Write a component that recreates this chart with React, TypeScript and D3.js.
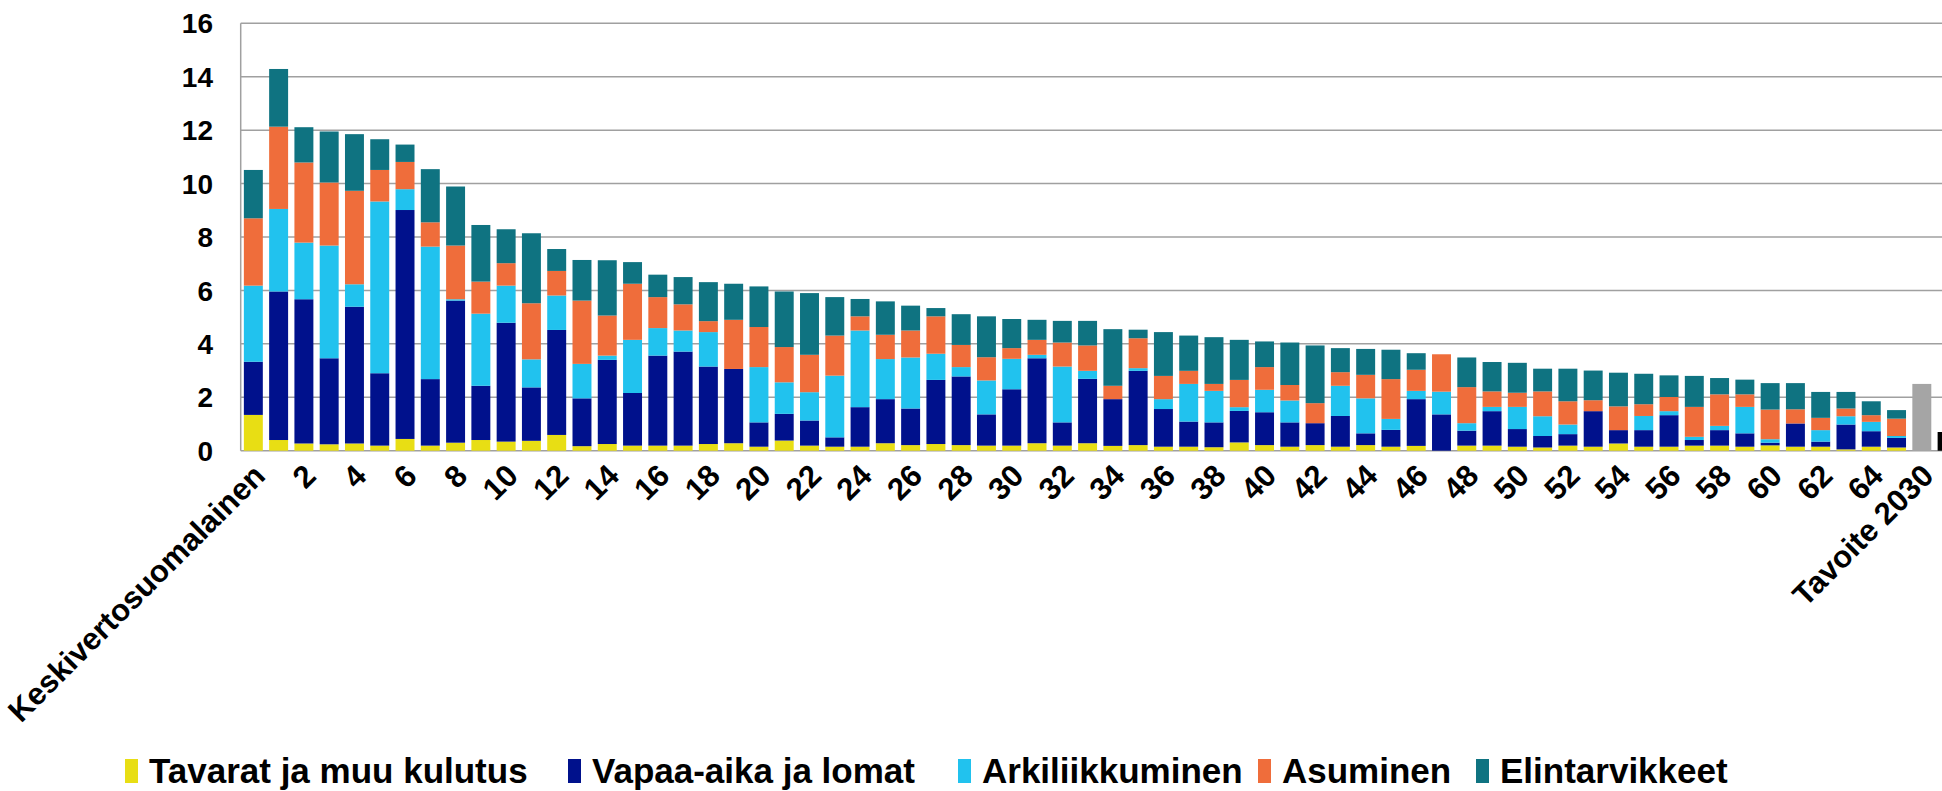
import React from 'react';
import * as d3 from 'd3';

// categories: average Finn, households 1..65, target 2030, cut-off bar at the edge
const categories = ['Keskivertosuomalainen', ...d3.range(1, 66).map(String), 'Tavoite 2030', ''];

const seriesNames = ['Tavarat ja muu kulutus', 'Vapaa-aika ja lomat', 'Arkiliikkuminen', 'Asuminen', 'Elintarvikkeet'];
const seriesColors = ['#E8DE14', '#00118C', '#21C2EE', '#EF6D3B', '#0F7381'];

const tavarat = [1.34, 0.40, 0.27, 0.24, 0.27, 0.19, 0.44, 0.19, 0.30, 0.40, 0.34, 0.37, 0.59, 0.17,
  0.25, 0.19, 0.19, 0.19, 0.25, 0.28, 0.15, 0.38, 0.19, 0.15, 0.15, 0.28, 0.21, 0.25, 0.21, 0.19,
  0.19, 0.28, 0.19, 0.28, 0.18, 0.21, 0.15, 0.15, 0.13, 0.31, 0.21, 0.15, 0.21, 0.15, 0.21, 0.15,
  0.18, 0.00, 0.19, 0.19, 0.15, 0.12, 0.19, 0.15, 0.27, 0.15, 0.15, 0.19, 0.19, 0.15, 0.20, 0.15,
  0.15, 0.05, 0.15, 0.12];
const vapaaAika = [1.99, 5.56, 5.40, 3.22, 5.12, 2.71, 8.57, 2.49, 5.32, 2.03, 4.45, 2.00, 3.93, 1.79,
  3.15, 1.97, 3.37, 3.52, 2.90, 2.78, 0.91, 1.00, 0.94, 0.35, 1.48, 1.65, 1.37, 2.40, 2.57, 1.17,
  2.11, 3.18, 0.87, 2.41, 1.75, 2.78, 1.41, 0.94, 0.93, 1.18, 1.23, 0.91, 0.82, 1.15, 0.44, 0.63,
  1.75, 1.36, 0.56, 1.29, 0.66, 0.43, 0.43, 1.33, 0.50, 0.62, 1.18, 0.21, 0.58, 0.50, 0.10, 0.87,
  0.19, 0.93, 0.58, 0.36];
const arkiliikkuminen = [2.85, 3.09, 2.12, 4.22, 0.84, 6.43, 0.78, 4.96, 0.05, 2.70, 1.39, 1.05, 1.29, 1.29,
  0.16, 1.99, 1.03, 0.79, 1.29, 0.00, 2.07, 1.18, 1.06, 2.31, 2.87, 1.50, 1.91, 0.98, 0.35, 1.27,
  1.14, 0.13, 2.09, 0.30, 0.00, 0.10, 0.37, 1.41, 1.18, 0.14, 0.84, 0.82, 0.00, 1.13, 1.31, 0.41,
  0.31, 0.85, 0.28, 0.16, 0.83, 0.74, 0.36, 0.00, 0.00, 0.53, 0.15, 0.12, 0.16, 0.99, 0.13, 0.00,
  0.43, 0.31, 0.35, 0.07];
const asuminen = [2.52, 3.08, 3.00, 2.36, 3.50, 1.18, 1.02, 0.91, 2.01, 1.20, 0.84, 2.10, 0.92, 2.37,
  1.50, 2.10, 1.16, 0.98, 0.41, 1.84, 1.50, 1.32, 1.40, 1.50, 0.53, 0.91, 1.01, 1.40, 0.83, 0.87,
  0.40, 0.56, 0.90, 0.95, 0.50, 1.12, 0.87, 0.49, 0.26, 1.02, 0.85, 0.58, 0.75, 0.51, 0.88, 1.49,
  0.79, 1.40, 1.35, 0.58, 0.53, 0.93, 0.87, 0.41, 0.89, 0.44, 0.53, 1.12, 1.18, 0.47, 1.11, 0.53,
  0.46, 0.29, 0.25, 0.65];
const elintarvikkeet = [1.81, 2.16, 1.32, 1.91, 2.12, 1.15, 0.65, 1.99, 2.21, 2.12, 1.27, 2.62, 0.82, 1.52,
  2.07, 0.81, 0.84, 1.02, 1.46, 1.35, 1.52, 2.08, 2.31, 1.44, 0.65, 1.25, 0.93, 0.31, 1.15, 1.53,
  1.09, 0.75, 0.81, 0.92, 2.12, 0.32, 1.64, 1.32, 1.75, 1.50, 0.96, 1.59, 2.16, 0.90, 0.97, 1.10,
  0.62, 0.00, 1.11, 1.10, 1.12, 0.85, 1.22, 1.11, 1.26, 1.14, 0.81, 1.16, 0.61, 0.55, 0.99, 0.98,
  0.97, 0.62, 0.52, 0.32];

// single bars after the households
const targetValue = 2.5; // Tavoite 2030
const edgeValue = 0.7; // black bar, cut by the picture edge

const yTicks = d3.range(0, 17, 2);

const W = 1942;
const H = 791;
const FONT = '"Liberation Sans", Arial, sans-serif';

export default function App() {
  const plotLeft = 240.7;
  const step = 25.28;

  const x = d3.scaleBand<number>()
    .domain(d3.range(categories.length))
    .range([plotLeft, plotLeft + step * categories.length])
    .paddingInner(0.25)
    .paddingOuter(0.125);

  const y = d3.scaleLinear().domain([0, 16]).range([450.7, 23.3]);

  const rows = tavarat.map((v, i) => ({
    i,
    s0: v,
    s1: vapaaAika[i],
    s2: arkiliikkuminen[i],
    s3: asuminen[i],
    s4: elintarvikkeet[i]
  }));
  const stacked = d3.stack<any>().keys(['s0', 's1', 's2', 's3', 's4'])(rows);

  const targetIdx = categories.indexOf('Tavoite 2030');

  // where each legend text starts
  const legendX = [149, 592, 982, 1282, 1500];

  return (
    <svg width={W} height={H} style={{ position: 'absolute', left: 0, top: 0, display: 'block', background: '#fff' }}
      fontFamily={FONT} fontWeight="bold">
      {/* gridlines */}
      {yTicks.map(t => (
        <line key={t} x1={plotLeft} x2={W} y1={y(t)} y2={y(t)} stroke="#a0a0a0" strokeWidth={1.5} />
      ))}
      <line x1={plotLeft} x2={plotLeft} y1={y(16)} y2={y(0)} stroke="#a0a0a0" strokeWidth={1.5} />

      {/* y labels */}
      {yTicks.map(t => (
        <text key={t} x={213} y={y(t)} dy="0.36em" textAnchor="end" fontSize={28}>{t}</text>
      ))}

      {/* stacked bars */}
      {stacked.map((layer, k) => (
        <g key={k} fill={seriesColors[k]}>
          {layer.map((d, i) => (
            <rect key={i} x={x(i)} width={x.bandwidth()} y={y(d[1])} height={Math.max(0, y(d[0]) - y(d[1]))} />
          ))}
        </g>
      ))}
      <rect x={x(targetIdx)} width={x.bandwidth()} y={y(targetValue)} height={y(0) - y(targetValue)} fill="#A5A5A5" />
      <rect x={x(targetIdx + 1)} width={x.bandwidth()} y={y(edgeValue)} height={y(0) - y(edgeValue)} fill="#000" />

      {/* x labels, every second category */}
      {categories.map((c, i) => i % 2 === 0 && c ? (
        <text key={i} transform={`translate(${(x(i) as number) + x.bandwidth() / 2 + 6},470) rotate(-45)`}
          textAnchor="end" dy="0.35em" fontSize={31}>{c}</text>
      ) : null)}

      {/* legend */}
      {seriesNames.map((name, k) => (
        <g key={name} transform={`translate(${legendX[k]},0)`}>
          <rect x={-24} y={759} width={13} height={24} fill={seriesColors[k]} />
          <text x={0} y={783} fontSize={35}>{name}</text>
        </g>
      ))}
    </svg>
  );
}
